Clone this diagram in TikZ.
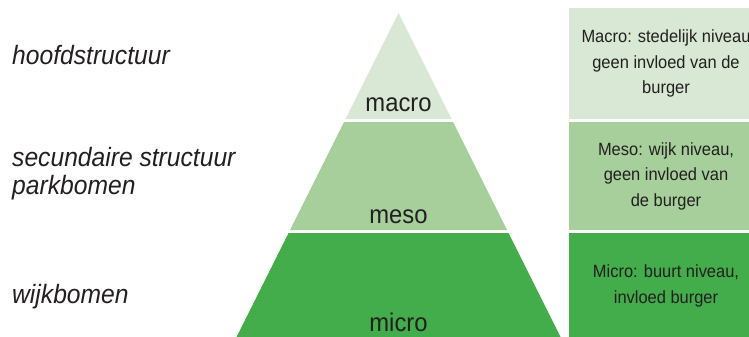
\documentclass[tikz,border=0pt]{standalone}
\usepackage{fontspec}
\setmainfont{Liberation Sans}
\newfontfamily\condensed[FakeStretch=0.93]{Liberation Sans}
\definecolor{macro_green}{RGB}{217, 232, 212}
\definecolor{meso_green}{RGB}{166, 207, 155}
\definecolor{micro_green}{RGB}{66, 173, 74}
\definecolor{text_grey}{RGB}{35, 31, 32}

\tikzset{
  levellabel/.style={anchor=base, text=text_grey, inner sep=0pt,
    font=\condensed\fontsize{25.6}{27}\selectfont},
  sidelabel/.style={anchor=base west, text=text_grey, inner sep=0pt, align=left,
    font=\condensed\itshape\fontsize{26.5}{27.3}\selectfont},
  infobox/.style={minimum width=194pt, inner sep=0pt, outer sep=0pt,
    text=text_grey, align=center,
    font=\condensed\fontsize{17.7}{25.5}\selectfont}
}

\begin{document}
\begin{tikzpicture}[x=1pt, y=-1pt]
\useasboundingbox (0,0) rectangle (749,337);
\clip (0,0) rectangle (749,337);

% pyramid
\fill[macro_green] (398.5,13) -- (451.5,119) -- (345.5,119) -- cycle;
\fill[meso_green] (344,122) -- (453,122) -- (507,230) -- (290,230) -- cycle;
\fill[micro_green] (288.5,233) -- (508.5,233) -- (562,340) -- (235,340) -- cycle;

\node[levellabel] (macro) at (398.5, 111.7) {macro};
\node[levellabel] (meso) at (398.5, 223) {meso};
\node[levellabel] (micro) at (398.5, 331.7) {micro};

% names on the left (base = last line)
\node[sidelabel] (hoofd) at (12, 64.3) {hoofdstructuur};
\node[sidelabel] (secundair) at (12, 194) {secundaire structuur\\parkbomen};
\node[sidelabel] (wijk) at (12, 303) {wijkbomen};

% boxes on the right
\node[infobox, fill=macro_green, minimum height=110.7pt] (macrobox) at (666, 63.65)
  {Macro: stedelijk niveau\\geen invloed van de\\burger};
\node[infobox, fill=meso_green, minimum height=108pt] (mesobox) at (666, 176)
  {Meso: wijk niveau,\\geen invloed van\\de burger};
\node[infobox, fill=micro_green, minimum height=106pt] (microbox) at (666, 286)
  {Micro: buurt niveau,\\invloed burger};
\end{tikzpicture}
\end{document}
